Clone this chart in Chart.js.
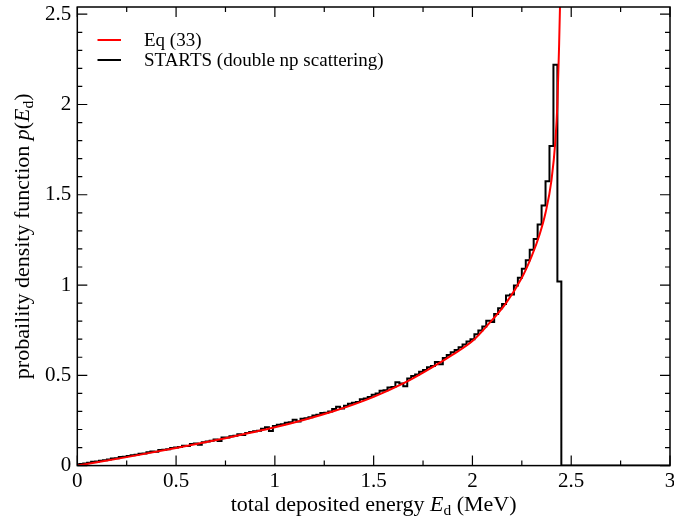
<!DOCTYPE html>
<html>
<head>
<meta charset="utf-8">
<script src="https://cdn.jsdelivr.net/npm/chart.js@4.4.1/dist/chart.umd.min.js"></script>
<style>
  html, body { margin: 0; padding: 0; background: #fff; }
  #wrap { width: 674px; height: 531px; }
</style>
</head>
<body>
<div id="wrap"><canvas id="pdf" width="674" height="531"></canvas></div>
<script>
// Eq (33) curve (E in MeV, p)
const curveE = [0, 0.1, 0.25, 0.5, 0.75, 1.0, 1.15, 1.3, 1.5, 1.65, 1.8, 1.9, 2.0, 2.08, 2.17, 2.25, 2.3, 2.34, 2.37, 2.4, 2.42, 2.43, 2.438, 2.444, 2.447];
const curveP = [0, 0.018, 0.047, 0.097, 0.152, 0.212, 0.254, 0.302, 0.381, 0.455, 0.547, 0.615, 0.69, 0.782, 0.9, 1.04, 1.16, 1.28, 1.40, 1.58, 1.80, 2.0, 2.30, 2.58, 2.8];

// STARTS histogram: first partial bin [0,0.01], then 0.02 wide bins from 0.01, last partial bin [2.45,2.46]
const histFirst = 0.002;
const histFirstEdge = 0.01;
const histBinWidth = 0.02;
const histValues = [
  0.005,0.009,0.011,0.016,0.021,0.023,0.027,0.030,0.034,0.039,
  0.041,0.047,0.049,0.053,0.058,0.060,0.066,0.067,0.074,0.078,
  0.077,0.086,0.088,0.091,0.098,0.100,0.103,0.110,0.108,0.119,
  0.122,0.116,0.130,0.133,0.138,0.145,0.136,0.156,0.156,0.163,
  0.165,0.173,0.170,0.180,0.186,0.190,0.193,0.204,0.212,0.192,
  0.220,0.226,0.229,0.238,0.240,0.254,0.244,0.259,0.262,0.268,
  0.278,0.281,0.292,0.293,0.300,0.314,0.326,0.316,0.331,0.342,
  0.348,0.352,0.368,0.371,0.380,0.392,0.400,0.414,0.418,0.433,
  0.436,0.462,0.455,0.440,0.482,0.496,0.505,0.520,0.530,0.545,
  0.552,0.574,0.562,0.596,0.612,0.628,0.640,0.655,0.671,0.688,
  0.700,0.728,0.748,0.770,0.802,0.795,0.840,0.872,0.895,0.942,
  0.948,0.998,1.040,1.090,1.138,1.196,1.255,1.335,1.440,1.575,
  1.770,2.220
];
const histLastEdge = 2.45;
const histLast = 1.02;
const histEnd = 2.46;

const seriesLabels = ['Eq (33)', 'STARTS (double np scattering)'];
const xTickStep = 0.5, xMinorStep = 0.25;
const yTickStep = 0.5, yMinorStep = 0.1;

const FONT = '"Liberation Serif", "Times New Roman", serif';
Chart.defaults.font.family = FONT;
Chart.defaults.color = '#000';

const curveData = curveE.map((e, i) => ({ x: e, y: curveP[i] }));
const histData = [{ x: 0, y: histFirst }];
histValues.forEach((v, i) => histData.push({ x: +(histFirstEdge + i * histBinWidth).toFixed(3), y: v }));
histData.push({ x: histLastEdge, y: histLast }, { x: histEnd, y: 0 }, { x: 3, y: 0 });

// rich text: segments {t, it, sub}
function richWidth(ctx, segs, size){
  let w = 0;
  segs.forEach(s => { ctx.font = (s.it ? 'italic ' : '') + (s.sub ? size*0.7 : size) + 'px ' + FONT; w += ctx.measureText(s.t).width; });
  return w;
}
function drawRich(ctx, segs, x, y, size){
  let cx = x - richWidth(ctx, segs, size) / 2;
  ctx.textAlign = 'left'; ctx.textBaseline = 'alphabetic';
  segs.forEach(s => {
    ctx.font = (s.it ? 'italic ' : '') + (s.sub ? size*0.7 : size) + 'px ' + FONT;
    ctx.fillText(s.t, cx, s.sub ? y + 4 : y);
    cx += ctx.measureText(s.t).width;
  });
}

const framePlugin = {
  id: 'frame',
  afterDraw(chart){
    const { ctx, chartArea: a, scales: { x, y } } = chart;
    ctx.save();
    ctx.strokeStyle = '#000'; ctx.lineWidth = 1.5;
    ctx.strokeRect(a.left, a.top, a.right - a.left, a.bottom - a.top);
    ctx.lineWidth = 1.2;
    ctx.beginPath();
    for (let v = 0; v <= 3.0001; v += xMinorStep){
      const px = x.getPixelForValue(v);
      const major = Math.abs(v / xTickStep - Math.round(v / xTickStep)) < 1e-6;
      const len = major ? 10 : 5;
      ctx.moveTo(px, a.bottom); ctx.lineTo(px, a.bottom - len);
      ctx.moveTo(px, a.top); ctx.lineTo(px, a.top + len);
    }
    for (let v = 0; v <= 2.5001; v += yMinorStep){
      const py = y.getPixelForValue(v);
      const major = Math.abs(v / yTickStep - Math.round(v / yTickStep)) < 1e-6;
      const len = major ? 10 : 5;
      ctx.moveTo(a.left, py); ctx.lineTo(a.left + len, py);
      ctx.moveTo(a.right, py); ctx.lineTo(a.right - len, py);
    }
    ctx.stroke();

    // axis titles
    ctx.fillStyle = '#000';
    drawRich(ctx, [{t:'total deposited energy '}, {t:'E', it:true}, {t:'d', sub:true}, {t:' (MeV)'}], (a.left + a.right) / 2, 511, 22);
    ctx.save();
    ctx.translate(29, (a.top + a.bottom) / 2);
    ctx.rotate(-Math.PI / 2);
    drawRich(ctx, [{t:'probaility density function '}, {t:'p', it:true}, {t:'('}, {t:'E', it:true}, {t:'d', sub:true}, {t:')'}], 0, 0, 22);
    ctx.restore();

    // legend
    const rows = [[40, '#ff0000', seriesLabels[0]], [60, '#000', seriesLabels[1]]];
    rows.forEach(([ly, col, txt]) => {
      ctx.strokeStyle = col; ctx.lineWidth = 2;
      ctx.beginPath(); ctx.moveTo(97.5, ly); ctx.lineTo(121, ly); ctx.stroke();
      ctx.font = '19px ' + FONT; ctx.textAlign = 'left'; ctx.textBaseline = 'middle';
      ctx.fillText(txt, 144, ly + 1);
    });
    ctx.restore();
  }
};

const fmt = v => String(+Number(v).toFixed(2));

new Chart(document.getElementById('pdf').getContext('2d'), {
  type: 'scatter',
  data: {
    datasets: [
      { label: seriesLabels[0], data: curveData, showLine: true, borderColor: '#ff0000', borderWidth: 2,
        pointRadius: 0, cubicInterpolationMode: 'monotone', order: 0 },
      { label: seriesLabels[1], data: histData, showLine: true, stepped: 'after', borderColor: '#000', borderWidth: 2,
        pointRadius: 0, order: 1 }
    ]
  },
  options: {
    responsive: false, animation: false,
    layout: { padding: { left: 0, top: 7, right: 4, bottom: 0 } },
    plugins: { legend: { display: false }, tooltip: { enabled: false } },
    scales: {
      x: { type: 'linear', min: 0, max: 3,
        ticks: { stepSize: xTickStep, includeBounds: false, autoSkip: false, maxRotation: 0, padding: 3,
          color: '#000', font: { family: FONT, size: 21 }, callback: fmt },
        grid: { display: false, drawTicks: false }, border: { display: false },
        afterFit: s => { s.height = 65.4; s.paddingLeft = 0; s.paddingRight = 0; } },
      y: { type: 'linear', min: 0, max: 2.54,
        ticks: { stepSize: yTickStep, includeBounds: false, autoSkip: false, padding: 6,
          color: '#000', font: { family: FONT, size: 21 }, callback: fmt },
        grid: { display: false, drawTicks: false }, border: { display: false },
        afterFit: s => { s.width = 77.3; s.paddingTop = 0; s.paddingBottom = 0; } }
    }
  },
  plugins: [framePlugin]
});
</script>
</body>
</html>
